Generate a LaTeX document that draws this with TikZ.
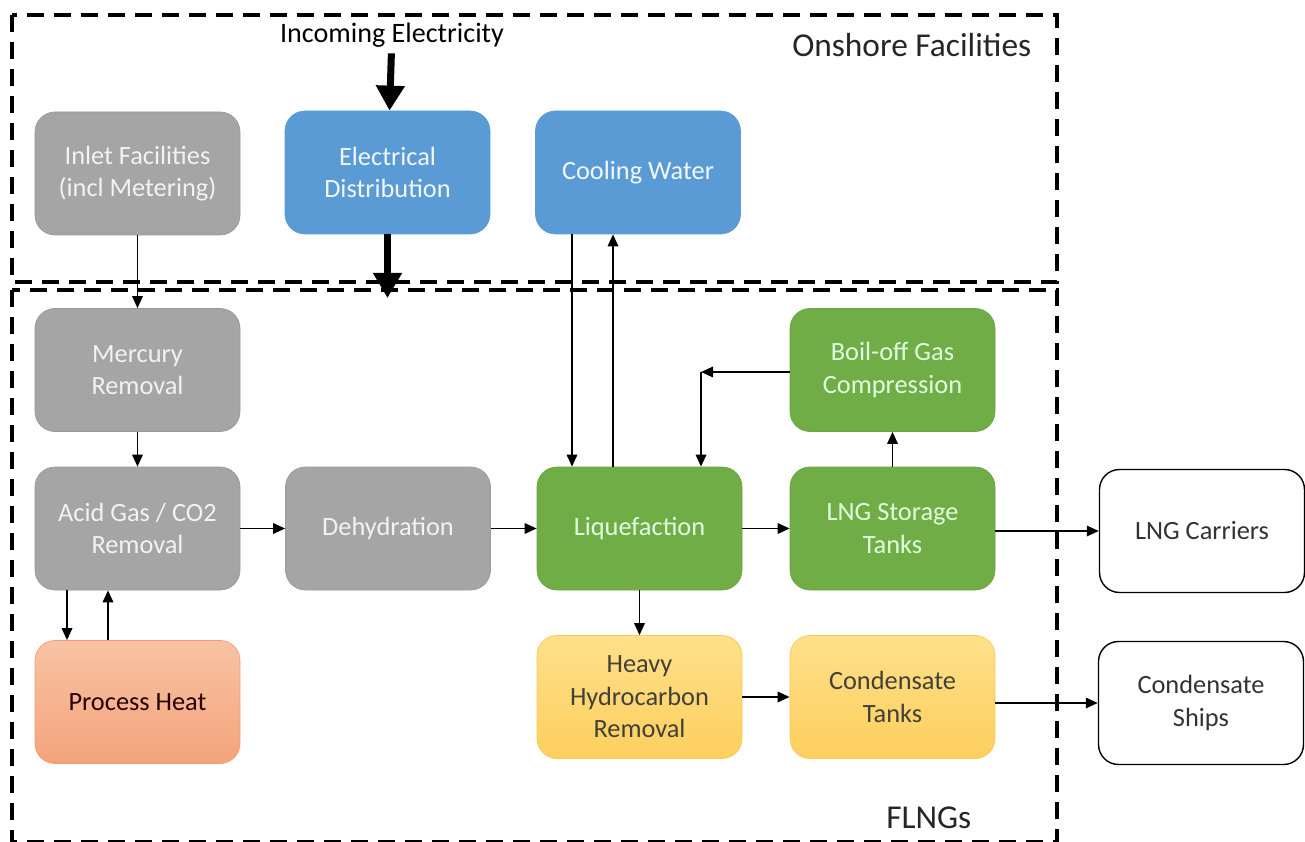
\documentclass[tikz,border=0pt]{standalone}
\usepackage{fontspec}
\setmainfont{Carlito}
\usetikzlibrary{arrows.meta}

\definecolor{unitgray}{HTML}{A5A5A5}
\definecolor{unitblue}{HTML}{5B9BD5}
\definecolor{unitgreen}{HTML}{70AD47}
\definecolor{heattop}{HTML}{F8C3A4}
\definecolor{heatbot}{HTML}{F4A37A}
\definecolor{condtop}{HTML}{FFE08A}
\definecolor{condbot}{HTML}{FDCF5E}

\begin{document}
\begin{tikzpicture}[
    unit/.style={rounded corners=0.4cm, minimum width=4.1cm, minimum height=2.46cm,
        align=center, inner sep=2pt, font=\fontsize{15}{18.5}\selectfont},
    grayunit/.style={unit, fill=unitgray, draw=unitgray!92!black, text=white!95!black},
    blueunit/.style={unit, fill=unitblue, draw=unitblue, text=white!92!unitblue},
    greenunit/.style={unit, fill=unitgreen, draw=unitgreen!95!black, text=white!88!green},
    heatunit/.style={unit, top color=heattop, bottom color=heatbot, draw=heatbot!95!red, text=black!85!red},
    condunit/.style={unit, top color=condtop, bottom color=condbot, draw=condbot!90!orange, text=black!85!yellow},
    shipunit/.style={unit, draw=black, line width=0.8pt, fill=white, text=black!80},
    site/.style={dashed, dash pattern=on 0.34cm off 0.2cm, line width=2.2pt},
    flow/.style={-{Triangle[length=0.24cm, width=0.21cm]}, line width=1pt},
    power/.style={-{Triangle[length=0.5cm, width=0.55cm]}, line width=0.14cm}
    ]

    \useasboundingbox (0,0) rectangle (26.1,-16.84);

    % site boundaries
    \draw[site] (0.24,-0.30) rectangle (21.14,-5.64);
    \draw[site] (0.24,-5.80) rectangle (21.14,-16.84);
    \node[anchor=east, font=\fontsize{19}{22}\selectfont, text=black!85] (onshore) at (20.75,-0.90) {Onshore Facilities};
    \node[anchor=east, font=\fontsize{19}{22}\selectfont, text=black!85] (flngs) at (19.55,-16.36) {FLNGs};

    % onshore units
    \node (supply) at (7.84,-0.70) {\fontsize{16}{19}\selectfont Incoming Electricity};
    \node[grayunit] (inlet) at (2.75,-3.47) {Inlet Facilities\\(incl Metering)};
    \node[blueunit] (elec) at (7.75,-3.45) {Electrical\\Distribution};
    \node[blueunit] (cool) at (12.76,-3.45) {Cooling Water};

    % floating units
    \node[grayunit] (mercury) at (2.75,-7.40) {Mercury\\Removal};
    \node[greenunit] (bog) at (17.85,-7.40) {Boil-off Gas\\Compression};
    \node[grayunit] (acid) at (2.75,-10.57) {Acid Gas / CO2\\Removal};
    \node[grayunit] (dehyd) at (7.76,-10.57) {Dehydration};
    \node[greenunit] (liq) at (12.79,-10.57) {Liquefaction};
    \node[greenunit] (lngst) at (17.85,-10.57) {LNG Storage\\Tanks};
    \node[heatunit] (heat) at (2.75,-14.04) {Process Heat};
    \node[condunit] (hhc) at (12.79,-13.94) {Heavy\\Hydrocarbon\\Removal};
    \node[condunit] (condt) at (17.85,-13.94) {Condensate\\Tanks};

    % export
    \node[shipunit] (carriers) at (24.04,-10.62) {LNG Carriers};
    \node[shipunit] (ships) at (24.02,-14.06) {Condensate\\Ships};

    \coordinate (elecout) at (7.75,-5.96);
    \coordinate (bogturn) at (14.02,-7.44);

    \draw[power] (supply) -- (elec);
    \draw[power] (elec) -- (elecout);

    \draw[flow] (inlet) -- (mercury);
    \draw[flow] (mercury) -- (acid);
    \draw[flow] ([xshift=-1.41cm]acid.south) -- ([xshift=-1.41cm]acid.south |- heat.north);
    \draw[flow] ([xshift=-0.59cm]heat.north) -- ([xshift=-0.59cm]heat.north |- acid.south);
    \draw[flow] (acid) -- (dehyd);
    \draw[flow] (dehyd) -- (liq);
    \draw[flow] ([xshift=-1.32cm]cool.south) -- ([xshift=-1.32cm]cool.south |- liq.north);
    \draw[flow] ([xshift=-0.53cm]liq.north) -- ([xshift=-0.53cm]liq.north |- cool.south);
    \draw[flow] (liq) -- (lngst);
    \draw[flow] (lngst) -- (bog);
    \draw[flow] (bog.west |- bogturn) -- (bogturn);
    \draw[flow] (bogturn) -- (bogturn |- liq.north);
    \draw[flow] (liq) -- (hhc);
    \draw[flow] (hhc) -- (condt);
    \draw[flow] (lngst.east |- carriers) -- (carriers);
    \draw[flow] (condt.east |- ships) -- (ships);

\end{tikzpicture}
\end{document}
